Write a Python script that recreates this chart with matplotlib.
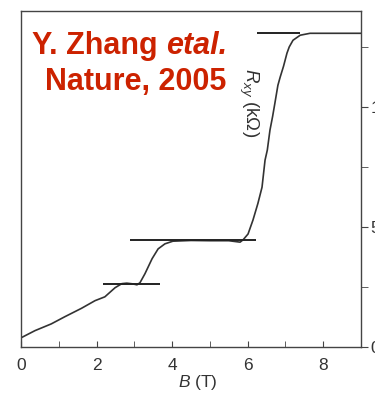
import matplotlib
matplotlib.use("Agg")
from matplotlib import pyplot as plt
from matplotlib.ticker import MultipleLocator

plt.rcParams['font.family'] = ['Liberation Sans', 'DejaVu Sans']
plt.rcParams['mathtext.fontset'] = 'custom'
plt.rcParams['mathtext.rm'] = 'Liberation Sans'
plt.rcParams['mathtext.it'] = 'Liberation Sans:italic'

# Hall resistance trace
b_field = [0.0, 0.37, 0.8, 1.16, 1.6, 1.96, 2.22, 2.49, 2.67, 2.8, 2.96, 3.07, 3.15,
           3.28, 3.47, 3.63, 3.81, 4.02, 4.5, 5.0, 5.5, 5.8, 5.88, 6.01, 6.14,
           6.27, 6.38, 6.46, 6.52, 6.59, 6.66, 6.72, 6.8, 6.86, 6.95, 7.04,
           7.1, 7.2, 7.39, 7.65, 8.0, 9.0]
r_xy = [0.37, 0.67, 0.95, 1.25, 1.6, 1.92, 2.08, 2.46, 2.63, 2.65, 2.62, 2.58, 2.67,
        3.04, 3.67, 4.08, 4.29, 4.40, 4.43, 4.42, 4.42, 4.36, 4.46, 4.70, 5.28,
        5.97, 6.65, 7.78, 8.2, 9.03, 9.6, 10.15, 10.9, 11.24, 11.7, 12.24,
        12.5, 12.78, 12.99, 13.07, 13.07, 13.07]

# quantised plateau markers: (start, end, level)
plateau_start = [2.17, 2.88, 6.24]
plateau_end = [3.68, 6.22, 7.38]
plateau_level = [2.63, 4.44, 13.1]

fig = plt.figure(figsize=(3.75, 3.93), dpi=100)
ax = fig.add_axes([21 / 375, 1 - 346.7 / 393, 340 / 375, 335.7 / 393])

ax.plot(b_field, r_xy, color='#333333', lw=1.2)
ax.hlines(plateau_level, plateau_start, plateau_end, color='#222222', lw=1.4)

ax.set_xlim(0, 9)
ax.set_ylim(0, 14)

ax.xaxis.set_major_locator(MultipleLocator(2))
ax.xaxis.set_minor_locator(MultipleLocator(1))
ax.tick_params(axis='x', which='both', direction='in', length=4, color='#444444',
               labelsize=12.5, labelcolor='#333333', pad=8)

ax.yaxis.tick_right()
ax.yaxis.set_major_locator(MultipleLocator(5))
ax.yaxis.set_minor_locator(MultipleLocator(2.5))
ax.tick_params(axis='y', which='both', direction='out', length=5, color='#444444',
               labelsize=12.5, labelcolor='#333333', pad=2)

for s in ax.spines.values():
    s.set_color('#444444')
    s.set_linewidth(1.0)

ax.set_xlabel(r'$B$ (T)', fontsize=12.5, color='#333333', labelpad=0)
ax.xaxis.set_label_coords(0.52, -0.078)

ax.text(6.03, 10.2, r'$R_{xy}$ (k$\Omega$)', rotation=-90, fontsize=13.5,
        color='#333333', ha='center', va='center')

# red citation text
red = '#cc2200'
fig.canvas.draw()
r = fig.canvas.get_renderer()
t1 = fig.text(32 / 375, 1 - 54 / 393, 'Y. Zhang ', fontsize=22, fontweight='bold',
              color=red, ha='left', va='baseline')
bb = t1.get_window_extent(r)
fig.text(bb.x1 / 375, 1 - 54 / 393, 'etal.', fontsize=22, fontweight='bold',
         fontstyle='italic', color=red, ha='left', va='baseline')
fig.text(136 / 375, 1 - 90 / 393, 'Nature, 2005', fontsize=22, fontweight='bold',
         color=red, ha='center', va='baseline')

fig.savefig('out.png', dpi=100)
